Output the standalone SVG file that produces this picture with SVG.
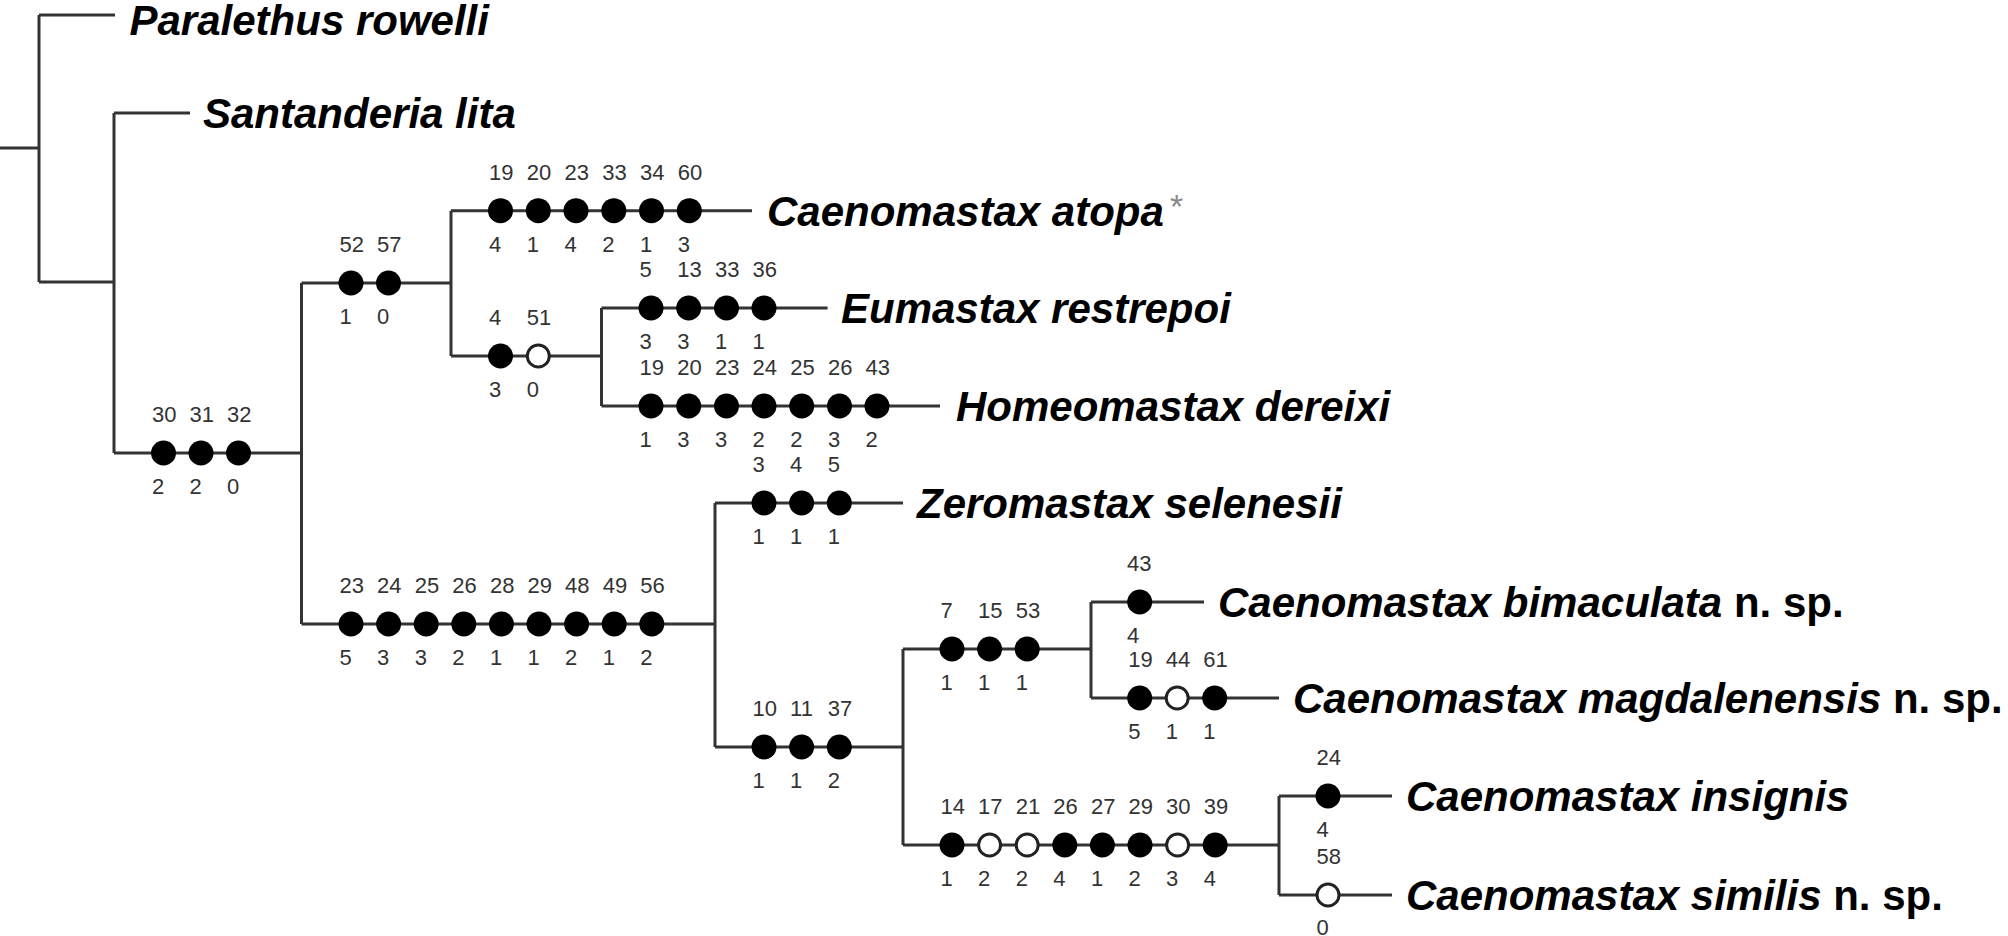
<svg xmlns="http://www.w3.org/2000/svg" width="2008" height="936" viewBox="0 0 2008 936">
<style>
.ln{stroke:#333;stroke-width:3;fill:none}
.f{fill:#000}
.o{fill:#fff;stroke:#222;stroke-width:3}
.n{font-family:"Liberation Sans",Arial,sans-serif;font-size:22px;fill:#333}
.t{font-family:"Liberation Sans",Arial,sans-serif;font-size:42px;font-weight:bold;font-style:italic;fill:#000}
.r{font-style:normal}
.ast{font-family:"Liberation Sans",Arial,sans-serif;font-size:34px;fill:#888}
</style>
<rect width="2008" height="936" fill="#fff"/>
<g id="connectors" class="ln">
<path d="M0,148H39M39,15V282M39,15H115M39,282H114"/>
<path d="M114,113H190M114,113V453M114,453H301.5"/>
<path d="M301.5,283V624M301.5,283H451M451,210.7V356"/>
<path d="M451,210.7H752M451,356H601.5M601.5,308V406M601.5,308H827.6M601.5,406H940"/>
<path d="M301.5,624H715M715,503V747M715,503H903M715,747H903"/>
<path d="M903,649V845M903,649H1091M1091,602V698M1091,602H1204M1091,698H1279"/>
<path d="M903,845H1279M1279,796V895M1279,796H1392M1279,895H1392"/>
</g>
<g id="taxon-paralethus"><text class="t" x="129.5" y="35">Paralethus rowelli</text></g>
<g id="taxon-santanderia"><text class="t" x="203" y="128">Santanderia lita</text></g>
<g id="taxon-atopa"><text class="t" x="767" y="226">Caenomastax atopa</text><text class="ast" x="1170" y="218">*</text></g>
<g id="taxon-eumastax"><text class="t" x="841" y="323">Eumastax restrepoi</text></g>
<g id="taxon-homeomastax"><text class="t" x="956" y="421">Homeomastax dereixi</text></g>
<g id="taxon-zeromastax"><text class="t" x="917" y="518">Zeromastax selenesii</text></g>
<g id="taxon-bimaculata"><text class="t" x="1218" y="617">Caenomastax bimaculata<tspan class="r"> n. sp.</tspan></text></g>
<g id="taxon-magdalenensis"><text class="t" x="1293" y="713">Caenomastax magdalenensis<tspan class="r"> n. sp.</tspan></text></g>
<g id="taxon-insignis"><text class="t" x="1406" y="811">Caenomastax insignis</text></g>
<g id="taxon-similis"><text class="t" x="1406" y="910">Caenomastax similis<tspan class="r"> n. sp.</tspan></text></g>

<g id="node-30-31-32">
<circle class="f" cx="163.5" cy="453" r="12.5"/><circle class="f" cx="201" cy="453" r="12.5"/><circle class="f" cx="238.5" cy="453" r="12.5"/>
<text class="n" x="152" y="422">30</text><text class="n" x="189.5" y="422">31</text><text class="n" x="227" y="422">32</text>
<text class="n" x="152" y="494">2</text><text class="n" x="189.5" y="494">2</text><text class="n" x="227" y="494">0</text>
</g>
<g id="node-52-57">
<circle class="f" cx="351" cy="283" r="12.5"/><circle class="f" cx="388.5" cy="283" r="12.5"/>
<text class="n" x="339.5" y="252">52</text><text class="n" x="377" y="252">57</text>
<text class="n" x="339.5" y="324">1</text><text class="n" x="377" y="324">0</text>
</g>
<g id="node-atopa">
<circle class="f" cx="500.5" cy="210.7" r="12.5"/><circle class="f" cx="538.3" cy="210.7" r="12.5"/><circle class="f" cx="576" cy="210.7" r="12.5"/><circle class="f" cx="613.8" cy="210.7" r="12.5"/><circle class="f" cx="651.5" cy="210.7" r="12.5"/><circle class="f" cx="689.3" cy="210.7" r="12.5"/>
<text class="n" x="489" y="180">19</text><text class="n" x="526.8" y="180">20</text><text class="n" x="564.5" y="180">23</text><text class="n" x="602.3" y="180">33</text><text class="n" x="640" y="180">34</text><text class="n" x="677.8" y="180">60</text>
<text class="n" x="489" y="252">4</text><text class="n" x="526.8" y="252">1</text><text class="n" x="564.5" y="252">4</text><text class="n" x="602.3" y="252">2</text><text class="n" x="640" y="252">1</text><text class="n" x="677.8" y="252">3</text>
</g>
<g id="node-4-51">
<circle class="f" cx="500.5" cy="356" r="12.5"/><circle class="o" cx="538.3" cy="356" r="11"/>
<text class="n" x="489" y="325">4</text><text class="n" x="526.8" y="325">51</text>
<text class="n" x="489" y="397">3</text><text class="n" x="526.8" y="397">0</text>
</g>
<g id="node-eumastax">
<circle class="f" cx="651" cy="308" r="12.5"/><circle class="f" cx="688.7" cy="308" r="12.5"/><circle class="f" cx="726.5" cy="308" r="12.5"/><circle class="f" cx="764" cy="308" r="12.5"/>
<text class="n" x="639.5" y="277">5</text><text class="n" x="677.2" y="277">13</text><text class="n" x="715" y="277">33</text><text class="n" x="752.5" y="277">36</text>
<text class="n" x="639.5" y="349">3</text><text class="n" x="677.2" y="349">3</text><text class="n" x="715" y="349">1</text><text class="n" x="752.5" y="349">1</text>
</g>
<g id="node-homeomastax">
<circle class="f" cx="651" cy="406" r="12.5"/><circle class="f" cx="688.7" cy="406" r="12.5"/><circle class="f" cx="726.5" cy="406" r="12.5"/><circle class="f" cx="764" cy="406" r="12.5"/><circle class="f" cx="801.7" cy="406" r="12.5"/><circle class="f" cx="839.5" cy="406" r="12.5"/><circle class="f" cx="877" cy="406" r="12.5"/>
<text class="n" x="639.5" y="375">19</text><text class="n" x="677.2" y="375">20</text><text class="n" x="715" y="375">23</text><text class="n" x="752.5" y="375">24</text><text class="n" x="790.2" y="375">25</text><text class="n" x="828" y="375">26</text><text class="n" x="865.5" y="375">43</text>
<text class="n" x="639.5" y="447">1</text><text class="n" x="677.2" y="447">3</text><text class="n" x="715" y="447">3</text><text class="n" x="752.5" y="447">2</text><text class="n" x="790.2" y="447">2</text><text class="n" x="828" y="447">3</text><text class="n" x="865.5" y="447">2</text>
</g>
<g id="node-lower-stem">
<circle class="f" cx="351" cy="624" r="12.5"/><circle class="f" cx="388.6" cy="624" r="12.5"/><circle class="f" cx="426.2" cy="624" r="12.5"/><circle class="f" cx="463.8" cy="624" r="12.5"/><circle class="f" cx="501.4" cy="624" r="12.5"/><circle class="f" cx="539" cy="624" r="12.5"/><circle class="f" cx="576.6" cy="624" r="12.5"/><circle class="f" cx="614.2" cy="624" r="12.5"/><circle class="f" cx="651.8" cy="624" r="12.5"/>
<text class="n" x="339.5" y="593">23</text><text class="n" x="377.1" y="593">24</text><text class="n" x="414.7" y="593">25</text><text class="n" x="452.3" y="593">26</text><text class="n" x="489.9" y="593">28</text><text class="n" x="527.5" y="593">29</text><text class="n" x="565.1" y="593">48</text><text class="n" x="602.7" y="593">49</text><text class="n" x="640.3" y="593">56</text>
<text class="n" x="339.5" y="665">5</text><text class="n" x="377.1" y="665">3</text><text class="n" x="414.7" y="665">3</text><text class="n" x="452.3" y="665">2</text><text class="n" x="489.9" y="665">1</text><text class="n" x="527.5" y="665">1</text><text class="n" x="565.1" y="665">2</text><text class="n" x="602.7" y="665">1</text><text class="n" x="640.3" y="665">2</text>
</g>
<g id="node-zeromastax">
<circle class="f" cx="764" cy="503" r="12.5"/><circle class="f" cx="801.6" cy="503" r="12.5"/><circle class="f" cx="839.3" cy="503" r="12.5"/>
<text class="n" x="752.5" y="472">3</text><text class="n" x="790.1" y="472">4</text><text class="n" x="827.8" y="472">5</text>
<text class="n" x="752.5" y="544">1</text><text class="n" x="790.1" y="544">1</text><text class="n" x="827.8" y="544">1</text>
</g>
<g id="node-10-11-37">
<circle class="f" cx="764" cy="747" r="12.5"/><circle class="f" cx="801.6" cy="747" r="12.5"/><circle class="f" cx="839.3" cy="747" r="12.5"/>
<text class="n" x="752.5" y="716">10</text><text class="n" x="790.1" y="716">11</text><text class="n" x="827.8" y="716">37</text>
<text class="n" x="752.5" y="788">1</text><text class="n" x="790.1" y="788">1</text><text class="n" x="827.8" y="788">2</text>
</g>
<g id="node-7-15-53">
<circle class="f" cx="952" cy="649" r="12.5"/><circle class="f" cx="989.6" cy="649" r="12.5"/><circle class="f" cx="1027.2" cy="649" r="12.5"/>
<text class="n" x="940.5" y="618">7</text><text class="n" x="978.1" y="618">15</text><text class="n" x="1015.7" y="618">53</text>
<text class="n" x="940.5" y="690">1</text><text class="n" x="978.1" y="690">1</text><text class="n" x="1015.7" y="690">1</text>
</g>
<g id="node-bimaculata">
<circle class="f" cx="1139.7" cy="602" r="12.5"/>
<text class="n" x="1127" y="571">43</text><text class="n" x="1127" y="643">4</text>
</g>
<g id="node-magdalenensis">
<circle class="f" cx="1139.7" cy="698" r="12.5"/><circle class="o" cx="1177.2" cy="698" r="11"/><circle class="f" cx="1214.7" cy="698" r="12.5"/>
<text class="n" x="1128.2" y="667">19</text><text class="n" x="1165.7" y="667">44</text><text class="n" x="1203.2" y="667">61</text>
<text class="n" x="1128.2" y="739">5</text><text class="n" x="1165.7" y="739">1</text><text class="n" x="1203.2" y="739">1</text>
</g>
<g id="node-insignis-similis-stem">
<circle class="f" cx="952" cy="845" r="12.5"/><circle class="o" cx="989.6" cy="845" r="11"/><circle class="o" cx="1027.2" cy="845" r="11"/><circle class="f" cx="1064.8" cy="845" r="12.5"/><circle class="f" cx="1102.4" cy="845" r="12.5"/><circle class="f" cx="1140" cy="845" r="12.5"/><circle class="o" cx="1177.6" cy="845" r="11"/><circle class="f" cx="1215.2" cy="845" r="12.5"/>
<text class="n" x="940.5" y="814">14</text><text class="n" x="978.1" y="814">17</text><text class="n" x="1015.7" y="814">21</text><text class="n" x="1053.3" y="814">26</text><text class="n" x="1090.9" y="814">27</text><text class="n" x="1128.5" y="814">29</text><text class="n" x="1166.1" y="814">30</text><text class="n" x="1203.7" y="814">39</text>
<text class="n" x="940.5" y="886">1</text><text class="n" x="978.1" y="886">2</text><text class="n" x="1015.7" y="886">2</text><text class="n" x="1053.3" y="886">4</text><text class="n" x="1090.9" y="886">1</text><text class="n" x="1128.5" y="886">2</text><text class="n" x="1166.1" y="886">3</text><text class="n" x="1203.7" y="886">4</text>
</g>
<g id="node-insignis">
<circle class="f" cx="1328" cy="796" r="12.5"/>
<text class="n" x="1316.5" y="765">24</text><text class="n" x="1316.5" y="837">4</text>
</g>
<g id="node-similis">
<circle class="o" cx="1328" cy="895" r="11"/>
<text class="n" x="1316.5" y="864">58</text><text class="n" x="1316.5" y="935">0</text>
</g>
</svg>
